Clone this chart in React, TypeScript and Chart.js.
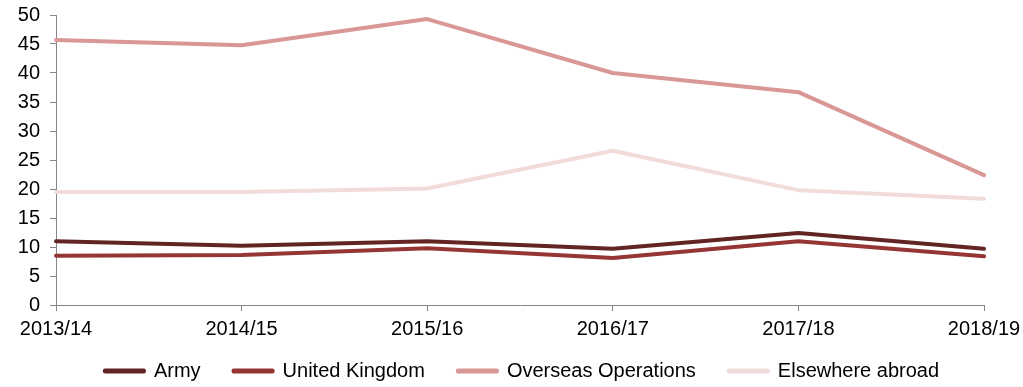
import React, { useEffect, useRef } from "react";
import { Chart, registerables } from "chart.js";

Chart.register(...registerables);

const categories = ["2013/14", "2014/15", "2015/16", "2016/17", "2017/18", "2018/19"];
const army = [11.0, 10.2, 11.0, 9.7, 12.4, 9.7];
const unitedKingdom = [8.5, 8.6, 9.8, 8.1, 11.0, 8.4];
const overseasOperations = [45.7, 44.8, 49.3, 40.0, 36.7, 22.4];
const elsewhereAbroad = [19.5, 19.5, 20.1, 26.6, 19.8, 18.3];
const yTicks = [0, 5, 10, 15, 20, 25, 30, 35, 40, 45, 50];

const FONT = "'Liberation Sans', Arial, Helvetica, sans-serif";

const legendShift = {
  id: "legendShift",
  afterLayout(chart: any) {
    const lg = chart.legend;
    if (!lg) return;
    lg.top -= 13;
    lg.bottom -= 13;
    lg.left += 30;
    lg.right += 30;
  },
};

export default function App() {
  const ref = useRef<HTMLCanvasElement | null>(null);

  useEffect(() => {
    if (!ref.current) return;
    const mk = (label: string, data: number[], color: string) => ({
      label,
      data,
      borderColor: color,
      backgroundColor: color,
      borderWidth: 4,
      pointRadius: 0,
      pointHoverRadius: 0,
      tension: 0,
      borderCapStyle: "round" as const,
      borderJoinStyle: "round" as const,
    });
    const chart = new Chart(ref.current, {
      type: "line",
      data: {
        labels: categories,
        datasets: [
          mk("Army", army, "#632523"),
          mk("United Kingdom", unitedKingdom, "#963634"),
          mk("Overseas Operations", overseasOperations, "#d99795"),
          mk("Elsewhere abroad", elsewhereAbroad, "#f2dcdb"),
        ],
      },
      plugins: [legendShift],
      options: {
        responsive: false,
        animation: false,
        layout: { padding: { top: 15, right: 39, left: 0, bottom: -17 } },
        plugins: {
          tooltip: { enabled: false },
          legend: {
            position: "bottom",
            labels: {
              font: { family: FONT, size: 20 },
              color: "#000",
              boxWidth: 39,
              boxHeight: 1,
              padding: 33,
            },
          },
        },
        scales: {
          x: {
            type: "category",
            offset: false,
            grid: { display: true, drawOnChartArea: false, tickLength: 6, color: "#868686" },
            border: { display: true, color: "#868686", width: 1 },
            ticks: { font: { family: FONT, size: 20 }, color: "#000", padding: 6, maxRotation: 0, autoSkip: false },
            afterFit: (s: any) => {
              s.height = 36;
              s.paddingLeft = 0;
              s.paddingRight = 0;
            },
          },
          y: {
            min: 0,
            max: 50,
            afterBuildTicks: (s: any) => { s.ticks = yTicks.map((v) => ({ value: v })); },
            grid: { display: true, drawOnChartArea: false, tickLength: 6, color: "#868686" },
            border: { display: true, color: "#868686", width: 1 },
            ticks: { font: { family: FONT, size: 20 }, color: "#000", padding: 10, autoSkip: false },
            afterFit: (s: any) => {
              s.width = 56;
              s.paddingTop = 0;
              s.paddingBottom = 0;
            },
          },
        },
      },
    });
    return () => chart.destroy();
  }, []);

  return (
    <div style={{ position: "absolute", left: 0, top: 0, width: 1023, height: 387, background: "#fff" }}>
      <canvas ref={ref} width={1023} height={387} />
    </div>
  );
}
